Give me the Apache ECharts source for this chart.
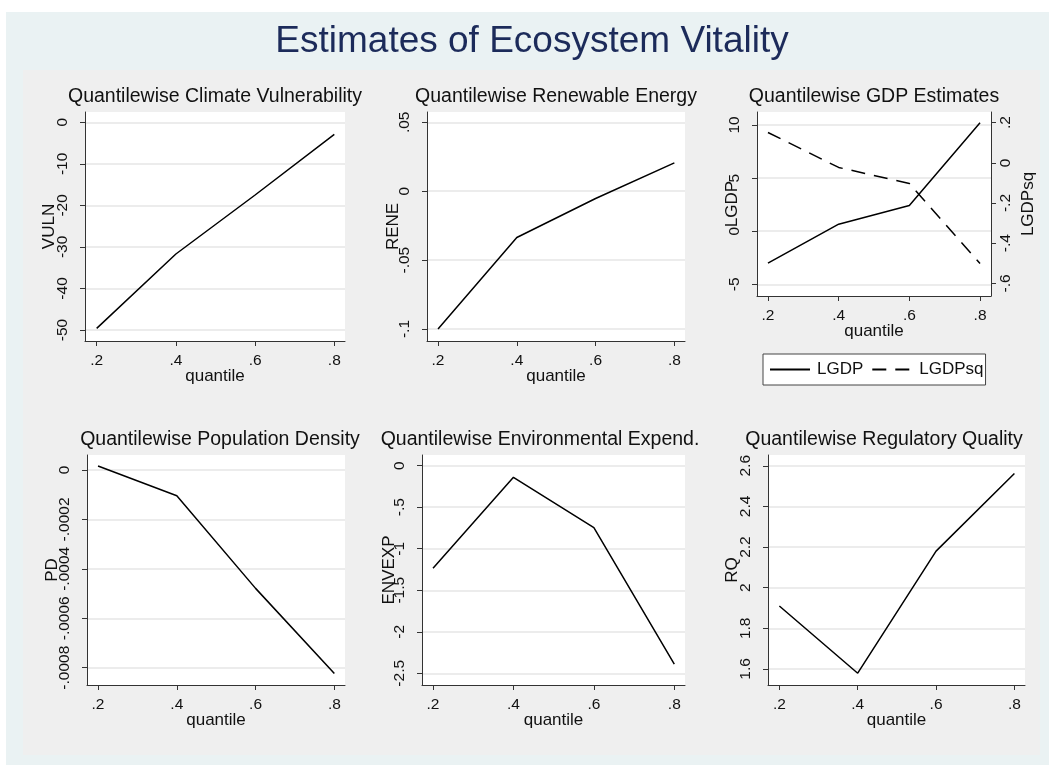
<!DOCTYPE html>
<html>
<head>
<meta charset="utf-8">
<title>Estimates of Ecosystem Vitality</title>
<script src="https://cdn.jsdelivr.net/npm/echarts@6.0.0/dist/echarts.min.js"></script>
<style>
  html, body { margin: 0; padding: 0; background: #fff; }
  #chart { width: 1049px; height: 767px; }
</style>
</head>
<body>
<div id="chart"></div>
<script>
// values
const quantiles = [0.2, 0.4, 0.6, 0.8];
const vuln = [-49.6, -31.7, -17.5, -2.9];
const rene = [-0.1, -0.0336, -0.0053, 0.0206];
const lgdp = [-3.0, 0.66, 2.41, 10.2];
const lgdpsq = [0.151, -0.023, -0.103, -0.501];
const pd = [0.000016, -0.000104, -0.000479, -0.000823];
const envexp = [-1.235, -0.14, -0.746, -2.39];
const rq = [1.91, 1.579, 2.18, 2.562];

// tick labels
const xTicks = [0.2, 0.4, 0.6, 0.8];
const vulnTicks = [-50, -40, -30, -20, -10, 0];
const reneTicks = [-0.1, -0.05, 0, 0.05];
const lgdpTicks = [-5, 0, 5, 10];
const lgdpsqTicks = [-0.6, -0.4, -0.2, 0, 0.2];
const pdTicks = [-0.0008, -0.0006, -0.0004, -0.0002, 0];
const envexpTicks = [-2.5, -2, -1.5, -1, -0.5, 0];
const rqTicks = [1.6, 1.8, 2, 2.2, 2.4, 2.6];

const FONT = 'Liberation Sans, Arial, sans-serif';
const AXIS = '#333';

// stata style numbers: .2, -.05
function stata(v) {
  let s = String(+Number(v).toPrecision(12));
  return s.replace(/^(-?)0\./, '$1.');
}

function grid(left, top, width, height) {
  return { left, top, width, height, show: true, backgroundColor: '#fff',
           borderWidth: 0, containLabel: false, outerBoundsMode: 'none' };
}

function xAx(gi, min, max) {
  return {
    type: 'value', gridIndex: gi, min, max,
    name: 'quantile', nameLocation: 'middle', nameGap: 27, nameMoveOverlap: false,
    nameTextStyle: { fontFamily: FONT, fontSize: 17, color: '#111' },
    axisLine: { show: true, onZero: false, lineStyle: { color: AXIS, width: 1 } },
    axisTick: { show: true, length: 5, customValues: xTicks, lineStyle: { color: AXIS } },
    axisLabel: { customValues: xTicks, formatter: stata, margin: 12,
                 fontFamily: FONT, fontSize: 15.5, color: '#111' },
    splitLine: { show: false }
  };
}

function yAx(gi, min, max, ticks, name, nameGap, pos, grid) {
  return {
    type: 'value', gridIndex: gi, min, max, position: pos || 'left',
    name, nameLocation: 'middle', nameGap, nameMoveOverlap: false,
    nameTextStyle: { fontFamily: FONT, fontSize: 17, color: '#111' },
    axisLine: { show: true, onZero: false, lineStyle: { color: AXIS, width: 1 } },
    axisTick: { show: true, length: 5, customValues: ticks, lineStyle: { color: AXIS } },
    axisLabel: { customValues: ticks, formatter: stata, rotate: 90,
                 margin: pos === 'right' ? 7 : 14,
                 fontFamily: FONT, fontSize: 15.5, color: '#111' },
    splitLine: { show: grid !== false, lineStyle: { color: '#e6e6e6', width: 1.5 } }
  };
}

function line(name, data, xi, yi, dashed) {
  return {
    name, type: 'line', xAxisIndex: xi, yAxisIndex: yi,
    data: quantiles.map((q, i) => [q, data[i]]),
    symbol: 'none', showSymbol: false, silent: true,
    lineStyle: { color: '#000', width: 1.5, type: dashed ? [14, 9] : 'solid' },
    itemStyle: { color: '#000' }
  };
}

function text(str, x, y, size, color) {
  return { type: 'text', x, y, silent: true, z: 100,
           style: { text: str, fontFamily: FONT, fontSize: size, fill: color || '#111',
                    textAlign: 'center', textVerticalAlign: 'middle' } };
}

const chart = echarts.init(document.getElementById('chart'), null, { renderer: 'canvas' });

const option = {
  animation: false,
  backgroundColor: '#fff',
  graphic: [
    { type: 'rect', z: -20, silent: true, shape: { x: 6, y: 12, width: 1043, height: 753 },
      style: { fill: '#eaf2f3' } },
    { type: 'rect', z: -19, silent: true, shape: { x: 23, y: 70, width: 1017, height: 685 },
      style: { fill: '#efefef' } },
    text('Estimates of Ecosystem Vitality', 532, 42, 37, '#1c2b5a'),
    text('Quantilewise Climate Vulnerability', 215, 97, 19.5),
    text('Quantilewise Renewable Energy', 556, 97, 19.5),
    text('Quantilewise GDP Estimates', 874, 97, 19.5),
    text('Quantilewise Population Density', 220, 440, 19.5),
    text('Quantilewise Environmental Expend.', 540, 440, 19.5),
    text('Quantilewise Regulatory Quality', 884, 440, 19.5)
  ],
  legend: {
    data: ['LGDP', 'LGDPsq'],
    left: 763, top: 354, orient: 'horizontal',
    itemWidth: 40, itemHeight: 12, itemGap: 8,
    padding: [7, 2, 7, 6],
    itemStyle: { opacity: 0, borderWidth: 0 },
    backgroundColor: '#fff', borderColor: '#444', borderWidth: 1, borderRadius: 0,
    textStyle: { fontFamily: FONT, fontSize: 17, color: '#111', padding: [0, 0, 0, 2] },
    selectedMode: false
  },
  grid: [
    grid(85, 112, 260, 229),
    grid(427, 112, 258, 229),
    grid(757, 112, 234, 184),
    grid(87, 455, 258, 230),
    grid(422, 455, 263, 230),
    grid(768, 455, 257, 230)
  ],
  xAxis: [
    xAx(0, 0.1705, 0.827),
    xAx(1, 0.172, 0.827),
    xAx(2, 0.169, 0.831),
    xAx(3, 0.172, 0.827),
    xAx(4, 0.1726, 0.8266),
    xAx(5, 0.171, 0.827)
  ],
  yAxis: [
    yAx(0, -52.65, 2.48, vulnTicks, 'VULN', 27),
    yAx(1, -0.1087, 0.0575, reneTicks, 'RENE', 25),
    yAx(2, -6.10, 11.22, lgdpTicks, 'LGDP', 16),
    yAx(2, -0.663, 0.253, lgdpsqTicks, 'LGDPsq', 29, 'right', false),
    yAx(3, -0.00087, 0.0000607, pdTicks, 'PD', 26),
    yAx(4, -2.641, 0.129, envexpTicks, 'ENVEXP', 24),
    yAx(5, 1.521, 2.653, rqTicks, 'RQ', 27)
  ],
  series: [
    line('VULN', vuln, 0, 0),
    line('RENE', rene, 1, 1),
    line('LGDP', lgdp, 2, 2),
    line('LGDPsq', lgdpsq, 2, 3, true),
    line('PD', pd, 3, 4),
    line('ENVEXP', envexp, 4, 5),
    line('RQ', rq, 5, 6)
  ]
};

chart.setOption(option);
</script>
</body>
</html>
